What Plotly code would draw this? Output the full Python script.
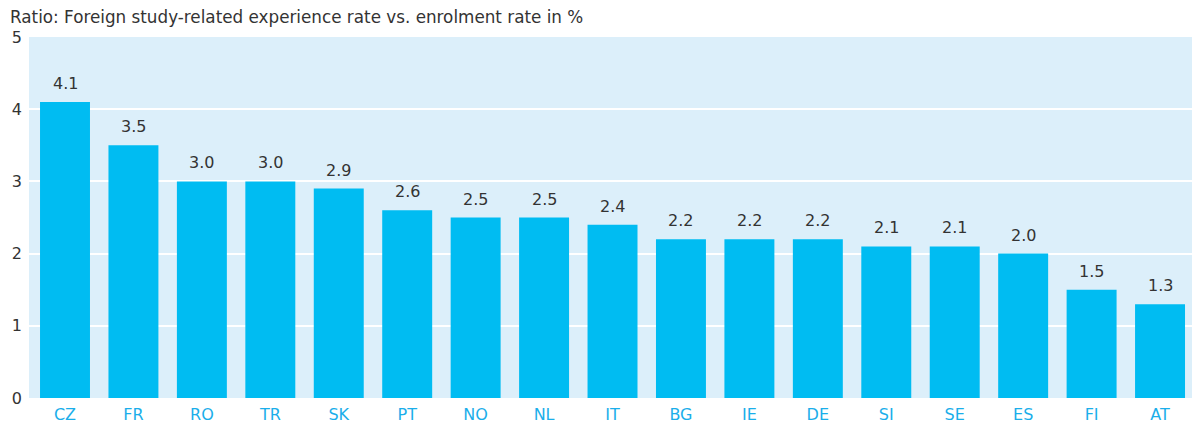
import plotly.graph_objects as go

countries = ["CZ", "FR", "RO", "TR", "SK", "PT", "NO", "NL", "IT",
             "BG", "IE", "DE", "SI", "SE", "ES", "FI", "AT"]
ratios = [4.1, 3.5, 3.0, 3.0, 2.9, 2.6, 2.5, 2.5, 2.4,
          2.2, 2.2, 2.2, 2.1, 2.1, 2.0, 1.5, 1.3]
y_ticks = [0, 1, 2, 3, 4, 5]

FONT = "DejaVu Sans, Liberation Sans, Arial, sans-serif"
BAR = "#00BCF2"
PANEL = "#DCEFFA"

fig = go.Figure()
fig.add_trace(go.Bar(
    x=countries,
    y=ratios,
    marker=dict(color=BAR, line=dict(width=0)),
    width=0.73,
    hoverinfo="x+y",
))

for c, v in zip(countries, ratios):
    fig.add_annotation(
        x=c, y=v, text=f"{v:.1f}", showarrow=False,
        yanchor="bottom", yshift=7,
        font=dict(family=FONT, size=16, color="#333333"),
    )

fig.add_annotation(
    xref="paper", yref="paper", x=0, y=1, xanchor="left", yanchor="bottom",
    xshift=-21, yshift=8,
    text="Ratio: Foreign study-related experience rate vs. enrolment rate in %",
    showarrow=False,
    font=dict(family=FONT, size=16.8, color="#333333"),
)

fig.update_layout(
    width=1192, height=428,
    margin=dict(l=29, r=0, t=37, b=30),
    paper_bgcolor="white",
    plot_bgcolor=PANEL,
    showlegend=False,
    xaxis=dict(
        range=[-0.526, 16.467],
        showgrid=False, zeroline=False, showline=False,
        tickfont=dict(family=FONT, size=16, color="#1AAEEA"),
        ticks="", ticklabelstandoff=5,
    ),
    yaxis=dict(
        range=[0, 5], tickvals=y_ticks,
        showgrid=True, gridcolor="white", gridwidth=1.5,
        zeroline=False, showline=False,
        tickfont=dict(family=FONT, size=16, color="#333333"),
        ticks="", ticklabelstandoff=6,
    ),
)

fig.write_html("out.html")
